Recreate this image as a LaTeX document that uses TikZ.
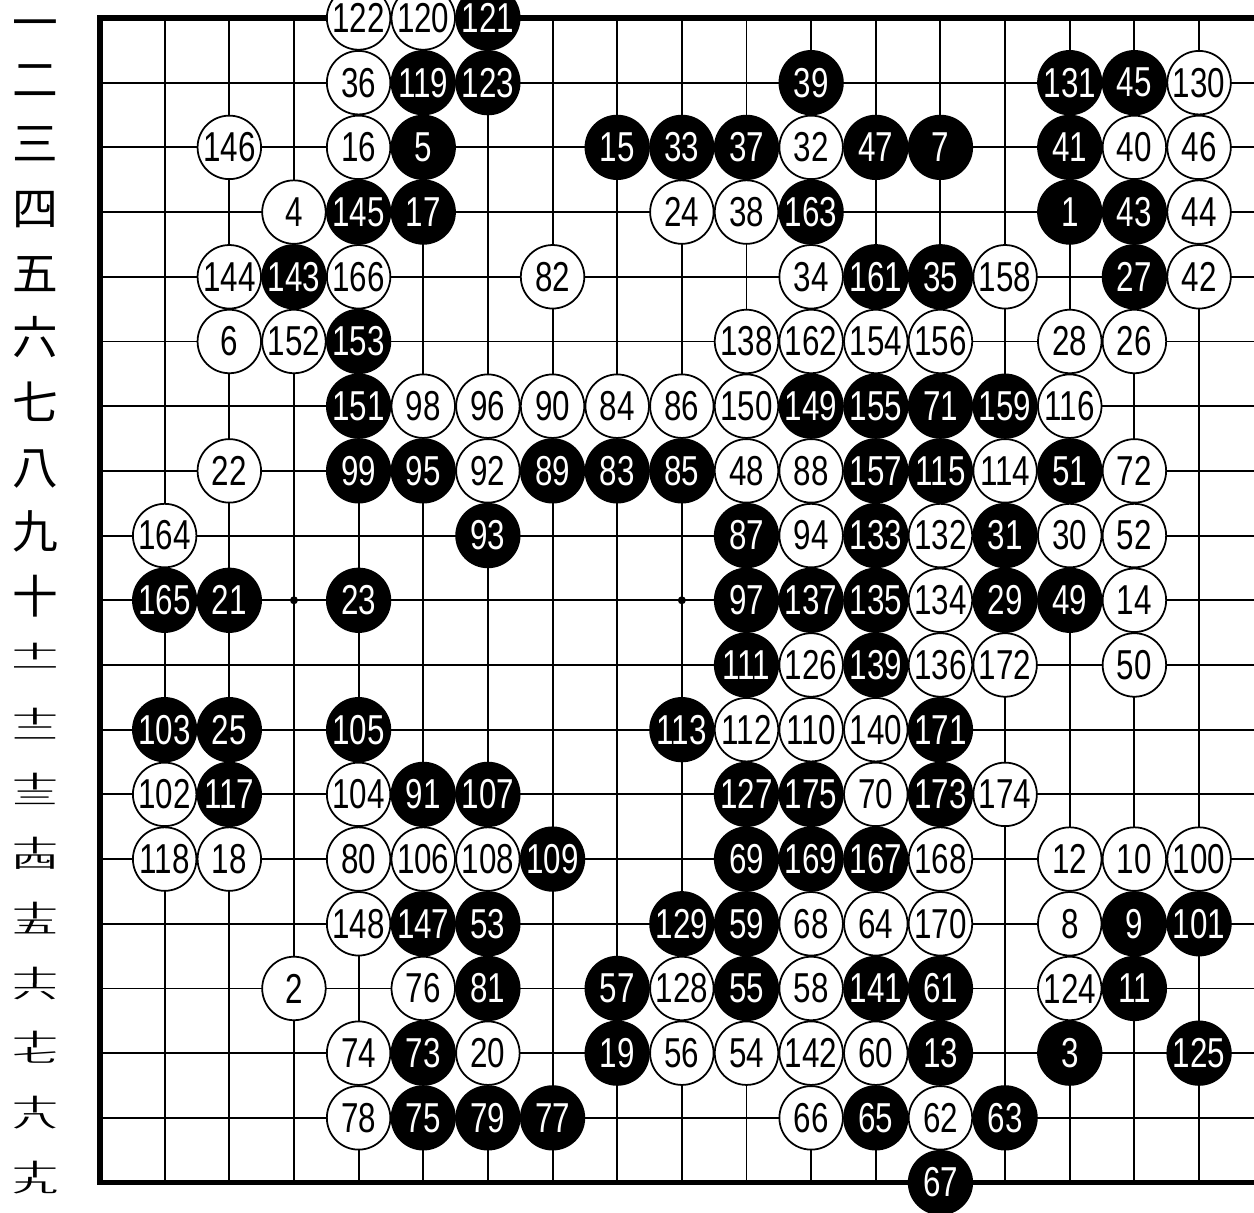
\documentclass[tikz,border=0pt]{standalone}
\usepackage{fontspec}
\usepackage{graphicx}
\usepackage{tikz}
\newfontfamily\stonefont[FakeStretch=0.75]{Liberation Sans}
\newfontfamily\cjk{Noto Sans CJK JP}
\newcommand{\jurow}[1]{\raisebox{0.43em}{\scalebox{1}[0.4]{十}}\llap{\raisebox{0.08em}{\scalebox{1}[0.4]{#1}}}}

\begin{document}
\begin{tikzpicture}[x=6.465mm,y=-6.47mm,
  gridline/.style={line width=0.55pt},
  border/.style={line width=1.5pt,line join=miter},
  wstone/.style={circle,draw,line width=0.5pt,fill=white,minimum size=6.35mm,inner sep=0pt,
    font=\stonefont\fontsize{11.9}{12}\selectfont},
  bstone/.style={wstone,fill=black,text=white},
  rowlab/.style={font=\cjk\fontsize{13}{13}\selectfont,inner sep=0pt,text height=0.76em,text depth=0pt}]
\useasboundingbox (-0.547,0.722) rectangle (18.85,19.47);
\foreach \r in {1,...,19}{\draw[gridline] (1,\r) -- (18.85,\r);}
\foreach \c in {1,...,18}{\draw[gridline] (\c,1) -- (\c,19);}
\draw[border] (18.85,1) -- (1,1) -- (1,19) -- (18.85,19);
\fill (4,10) circle (0.4mm);
\fill (10,10) circle (0.4mm);
\node[rowlab] (lab1) at (0,1.12) {一};
\foreach \r/\k in {2/二,3/三,4/四,5/五,6/六,7/七,8/八,9/九,10/十}
  \node[rowlab] (lab\r) at (0,\r) {\k};
\foreach \r/\k in {11/一,12/二,13/三,14/四,15/五,16/六,17/七,18/八,19/九}
  \node[rowlab] (lab\r) at (0,\r) {\jurow{\k}};
\foreach \c/\r/\n in {5/1/122,6/1/120,5/2/36,18/2/130,
  3/3/146,5/3/16,12/3/32,17/3/40,18/3/46,4/4/4,10/4/24,11/4/38,18/4/44,
  3/5/144,5/5/166,8/5/82,12/5/34,15/5/158,18/5/42,
  3/6/6,4/6/152,11/6/138,12/6/162,13/6/154,14/6/156,16/6/28,17/6/26,
  6/7/98,7/7/96,8/7/90,9/7/84,10/7/86,11/7/150,16/7/116,
  3/8/22,7/8/92,11/8/48,12/8/88,15/8/114,17/8/72,
  2/9/164,12/9/94,14/9/132,16/9/30,17/9/52,14/10/134,17/10/14,
  12/11/126,14/11/136,15/11/172,17/11/50,11/12/112,12/12/110,13/12/140,
  2/13/102,5/13/104,13/13/70,15/13/174,
  2/14/118,3/14/18,5/14/80,6/14/106,7/14/108,14/14/168,16/14/12,17/14/10,18/14/100,
  5/15/148,12/15/68,13/15/64,14/15/170,16/15/8,
  4/16/2,6/16/76,10/16/128,12/16/58,16/16/124,
  5/17/74,7/17/20,10/17/56,11/17/54,12/17/142,13/17/60,
  5/18/78,12/18/66,14/18/62}
  \node[wstone] (m\n) at (\c,\r) {\n};
\foreach \c/\r/\n in {7/1/121,6/2/119,7/2/123,12/2/39,16/2/131,17/2/45,
  6/3/5,9/3/15,10/3/33,11/3/37,13/3/47,14/3/7,16/3/41,
  5/4/145,6/4/17,12/4/163,16/4/1,17/4/43,4/5/143,13/5/161,14/5/35,17/5/27,5/6/153,
  5/7/151,12/7/149,13/7/155,14/7/71,15/7/159,
  5/8/99,6/8/95,8/8/89,9/8/83,10/8/85,13/8/157,14/8/115,16/8/51,
  7/9/93,11/9/87,13/9/133,15/9/31,
  2/10/165,3/10/21,5/10/23,11/10/97,12/10/137,13/10/135,15/10/29,16/10/49,
  11/11/111,13/11/139,2/12/103,3/12/25,5/12/105,10/12/113,14/12/171,
  3/13/117,6/13/91,7/13/107,11/13/127,12/13/175,14/13/173,
  8/14/109,11/14/69,12/14/169,13/14/167,
  6/15/147,7/15/53,10/15/129,11/15/59,17/15/9,18/15/101,
  7/16/81,9/16/57,11/16/55,13/16/141,14/16/61,17/16/11,
  6/17/73,9/17/19,14/17/13,16/17/3,18/17/125,
  6/18/75,7/18/79,8/18/77,13/18/65,15/18/63,14/19/67}
  \node[bstone] (m\n) at (\c,\r) {\n};
\end{tikzpicture}
\end{document}
